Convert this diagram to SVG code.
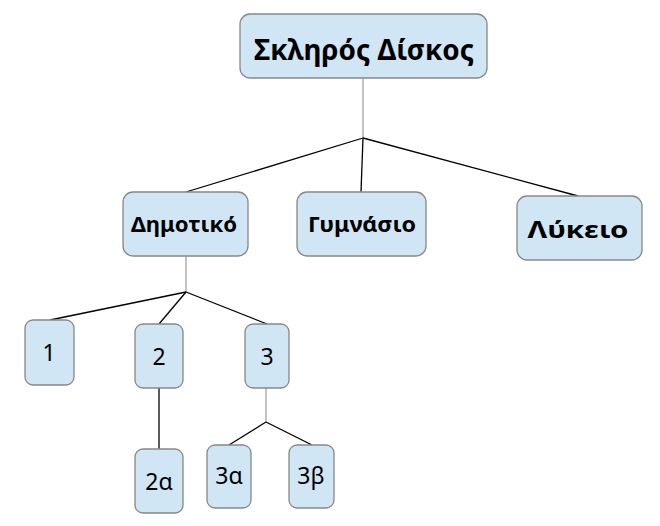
<svg xmlns="http://www.w3.org/2000/svg" width="660" height="526" viewBox="0 0 660 526">
<style>
.n{fill:#d0e6f4;stroke:#888888;stroke-width:1.3}
.b{font-family:"Noto Sans",sans-serif;font-weight:bold;fill:#000;text-anchor:middle}
.r{font-family:"Noto Sans",sans-serif;font-size:23px;fill:#000;text-anchor:middle}
.g{stroke:#888888;stroke-width:1;fill:none}
.k{stroke:#000;stroke-width:1.3;fill:none}
</style>
<rect width="660" height="526" fill="#fff"/>
<g id="connectors">
<line class="g" x1="363" y1="78" x2="363" y2="138"/>
<line class="k" x1="363" y1="138" x2="186" y2="192"/>
<line class="k" x1="363" y1="138" x2="361" y2="192"/>
<line class="k" x1="363" y1="138" x2="578" y2="196"/>
<line class="g" x1="186" y1="256" x2="186" y2="292"/>
<line class="k" x1="186" y1="292" x2="50" y2="320"/>
<line class="k" x1="186" y1="292" x2="159" y2="324"/>
<line class="k" x1="186" y1="292" x2="267" y2="324"/>
<line class="k" x1="159" y1="388" x2="159" y2="449"/>
<line class="g" x1="266" y1="388" x2="266" y2="422"/>
<line class="k" x1="266" y1="422" x2="229" y2="445"/>
<line class="k" x1="266" y1="422" x2="312" y2="445"/>
</g>
<g id="n-root"><rect class="n" x="240" y="14" width="247" height="64" rx="10"/><text class="b" x="364" y="60" font-size="28" textLength="220" lengthAdjust="spacingAndGlyphs">Σκληρός Δίσκος</text></g>
<g id="n-dimotiko"><rect class="n" x="123" y="192" width="125" height="64" rx="10"/><text class="b" x="184" y="232" font-size="22" textLength="106" lengthAdjust="spacingAndGlyphs">Δημοτικό</text></g>
<g id="n-gymnasio"><rect class="n" x="297" y="192" width="129" height="64" rx="10"/><text class="b" x="362" y="232" font-size="22" textLength="108" lengthAdjust="spacingAndGlyphs">Γυμνάσιο</text></g>
<g id="n-lykeio"><rect class="n" x="517" y="196" width="125" height="64" rx="10"/><text class="b" x="578" y="238" font-size="23" textLength="101" lengthAdjust="spacingAndGlyphs">Λύκειο</text></g>
<g id="n-1"><rect class="n" x="25" y="320" width="49" height="65" rx="8"/><text class="r" x="49" y="361">1</text></g>
<g id="n-2"><rect class="n" x="135" y="324" width="48" height="64" rx="8"/><text class="r" x="159" y="365">2</text></g>
<g id="n-3"><rect class="n" x="245" y="324" width="44" height="64" rx="8"/><text class="r" x="267" y="365">3</text></g>
<g id="n-2a"><rect class="n" x="135" y="449" width="48" height="64" rx="8"/><text class="r" x="159" y="490">2α</text></g>
<g id="n-3a"><rect class="n" x="207" y="445" width="44" height="63" rx="8"/><text class="r" x="229" y="484">3α</text></g>
<g id="n-3b"><rect class="n" x="289" y="445" width="45" height="63" rx="8"/><text class="r" x="311" y="484">3β</text></g>
</svg>
